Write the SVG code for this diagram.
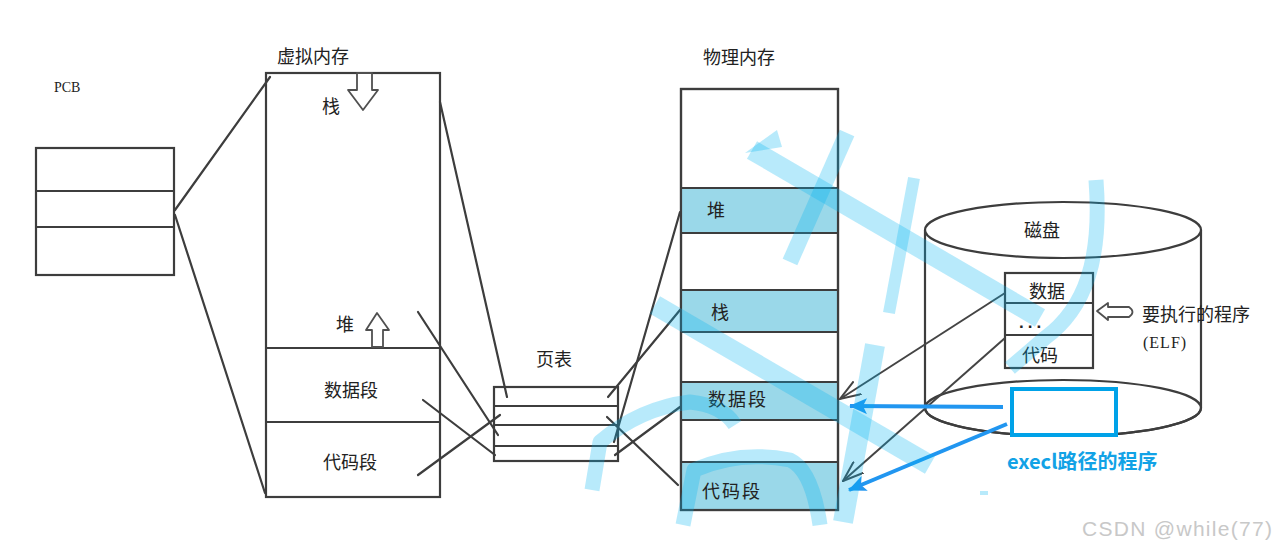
<svg xmlns="http://www.w3.org/2000/svg" width="1275" height="551" viewBox="0 0 1275 551">
<style>
.ln{stroke:#3d3d3d;stroke-width:2.2;fill:none;stroke-linecap:round}
.box{fill:#ffffff;stroke:#3d3d3d;stroke-width:2.2}
.band{fill:#9ad8e9}
.hol{fill:#ffffff;stroke:#505050;stroke-width:1.8;stroke-linejoin:round}
.t{font-family:"Noto Sans CJK SC","Noto Sans",sans-serif;font-size:18px;fill:#222}
.ser{font-family:"Liberation Serif",serif;font-size:14px;fill:#222}
.garrow{stroke:#444;stroke-width:2;fill:none}
.barrow{stroke:#2196f0;stroke-width:4;fill:none}
.wm{stroke:#00b4f0;stroke-opacity:0.28;fill:none;stroke-linecap:butt;stroke-linejoin:round}
</style>
<defs>
<marker id="openHead" viewBox="0 0 22 16" refX="21" refY="8" markerWidth="22" markerHeight="16" markerUnits="userSpaceOnUse" orient="auto">
<path d="M0,0.5 L21,8 L0,15.5" fill="none" stroke="#444" stroke-width="2"/>
</marker>
<marker id="blueHead" viewBox="0 0 18 16" refX="17" refY="8" markerWidth="18" markerHeight="16" markerUnits="userSpaceOnUse" orient="auto">
<path d="M0,0 L18,8 L0,16 L4,8 z" fill="#2196f0"/>
</marker>
</defs>
<rect x="0" y="0" width="1275" height="551" fill="#ffffff"/>

<g id="pcb">
<text class="ser" x="54" y="92">PCB</text>
<rect class="box" x="36" y="148" width="138" height="127"/>
<line class="ln" x1="36" y1="191" x2="174" y2="191"/>
<line class="ln" x1="36" y1="227" x2="174" y2="227"/>
</g>

<g id="virtual-memory">
<text class="t" x="277" y="63">虚拟内存</text>
<rect class="box" x="266" y="73" width="174" height="424"/>
<line class="ln" x1="266" y1="348" x2="440" y2="348"/>
<line class="ln" x1="266" y1="422" x2="440" y2="422"/>
<polygon class="hol" points="357,73 372,73 372,90 378,90 363,110 348,90 357,90"/>
<text class="t" x="331" y="113" text-anchor="middle" font-size="17">栈</text>
<polygon class="hol" points="377,313 389,330 383,330 383,347 372,347 372,330 366,330"/>
<text class="t" x="345" y="331" text-anchor="middle" font-size="17">堆</text>
<text class="t" x="351" y="397" text-anchor="middle">数据段</text>
<text class="t" x="350" y="469" text-anchor="middle">代码段</text>
</g>

<g id="page-table">
<text class="t" x="554" y="366" text-anchor="middle">页表</text>
<rect class="box" x="494" y="387" width="124" height="74"/>
<line class="ln" x1="494" y1="406" x2="618" y2="406"/>
<line class="ln" x1="494" y1="425" x2="618" y2="425"/>
<line class="ln" x1="494" y1="446" x2="618" y2="446"/>
</g>

<g id="physical-memory">
<text class="t" x="703" y="64">物理内存</text>
<rect class="box" x="681" y="89" width="157" height="421"/>
<rect class="band" x="682" y="189" width="155" height="44"/>
<rect class="band" x="682" y="291" width="155" height="41"/>
<rect class="band" x="682" y="383" width="155" height="37"/>
<rect class="band" x="682" y="463" width="155" height="46"/>
<line class="ln" x1="681" y1="188" x2="838" y2="188"/>
<line class="ln" x1="681" y1="233" x2="838" y2="233"/>
<line class="ln" x1="681" y1="290" x2="838" y2="290"/>
<line class="ln" x1="681" y1="332" x2="838" y2="332"/>
<line class="ln" x1="681" y1="382" x2="838" y2="382"/>
<line class="ln" x1="681" y1="420" x2="838" y2="420"/>
<line class="ln" x1="681" y1="462" x2="838" y2="462"/>
<rect x="681" y="89" width="157" height="421" fill="none" stroke="#3d3d3d" stroke-width="2.2"/>
<text class="t" x="716" y="217" text-anchor="middle" font-size="20">堆</text>
<text class="t" x="720" y="319" text-anchor="middle" font-size="20">栈</text>
<text class="t" x="708" y="406" font-size="20" letter-spacing="2">数据段</text>
<text class="t" x="702" y="498" font-size="20" letter-spacing="2">代码段</text>
</g>

<g id="disk">
<path class="box" d="M925,230 L925,408 A138,28 0 0 0 1201,408 L1201,230"/>
<ellipse cx="1063" cy="230" rx="138" ry="28" fill="#ffffff" stroke="#3d3d3d" stroke-width="2.2"/>
<ellipse cx="1063" cy="408" rx="138" ry="28" fill="none" stroke="#3d3d3d" stroke-width="2.2"/>
<text class="t" x="1042" y="237" text-anchor="middle">磁盘</text>
</g>

<g id="elf-program">
<rect class="box" x="1005" y="273" width="88" height="95"/>
<line class="ln" x1="1005" y1="303" x2="1093" y2="303"/>
<line class="ln" x1="1005" y1="335" x2="1093" y2="335"/>
<text class="t" x="1047" y="298" text-anchor="middle">数据</text>
<text x="1019" y="328" font-family="Liberation Sans, sans-serif" font-size="17" font-weight="bold" fill="#222" letter-spacing="4">...</text>
<text class="t" x="1040" y="362" text-anchor="middle">代码</text>
<path class="hol" d="M1097,311 L1108,303 L1108,307 L1129,307 Q1136,312 1129,317 L1108,317 L1108,320 Z"/>
<text class="t" x="1142" y="321" font-size="17">要执行的程序</text>
<text x="1143" y="348" font-family="Liberation Serif, serif" font-size="16" fill="#222" letter-spacing="1">(ELF)</text>
</g>

<g id="execl-program">
<rect x="1012" y="389" width="104" height="46" fill="#ffffff" stroke="#00a2e8" stroke-width="4"/>
<text x="1007" y="469" font-family="Noto Sans CJK SC, Noto Sans, sans-serif" font-size="20" font-weight="bold" fill="#12a2e6">execl路径的程序</text>
</g>

<g id="connectors">
<line class="ln" x1="175" y1="210" x2="270" y2="77"/>
<line class="ln" x1="175" y1="215" x2="265" y2="493"/>
<line class="ln" x1="440" y1="102" x2="507" y2="397"/>
<line class="ln" x1="418" y1="312" x2="498" y2="435"/>
<line class="ln" x1="423" y1="400" x2="495" y2="455"/>
<line class="ln" x1="418" y1="475" x2="500" y2="415"/>
<line class="ln" x1="608" y1="397" x2="680" y2="310"/>
<line class="ln" x1="614" y1="442" x2="680" y2="212"/>
<line class="ln" x1="607" y1="417" x2="678" y2="485"/>
<line class="ln" x1="615" y1="455" x2="680" y2="407"/>
<line class="garrow" x1="1005" y1="293" x2="840" y2="399" marker-end="url(#openHead)"/>
<line class="garrow" x1="1005" y1="338" x2="843" y2="481" marker-end="url(#openHead)"/>
<line class="barrow" x1="1003" y1="407" x2="850" y2="406" marker-end="url(#blueHead)"/>
<line class="barrow" x1="1007" y1="424" x2="849" y2="490" marker-end="url(#blueHead)"/>
</g>

<g id="highlight-strokes">
<path class="wm" stroke-width="20" d="M752,150 L1040,318"/>
<polygon points="745,153 777,130 782,147" fill="#00b4f0" fill-opacity="0.28"/>
<path class="wm" stroke-width="15" d="M1096,180 C1102,258 1086,308 1045,338 L1010,368"/>
<path class="wm" stroke-width="16" d="M847,133 L790,262"/>
<path class="wm" stroke-width="12" d="M914,178 L889,313"/>
<path class="wm" stroke-width="20" d="M655,305 L930,465"/>
<path class="wm" stroke-width="20" d="M875,345 L843,522"/>
<path class="wm" stroke-width="15" d="M592,490 L600,442 Q640,408 690,402 Q722,405 735,425"/>
<path class="wm" stroke-width="15" d="M683,525 L694,470 Q740,450 790,460 Q812,470 820,525"/>
<rect x="980" y="491" width="8" height="4" fill="#00b4f0" fill-opacity="0.28"/>
</g>

<text x="1082" y="536" font-family="Liberation Sans, Arial, sans-serif" font-size="21" fill="#c8c8c8" textLength="190">CSDN @while(77)</text>
</svg>
